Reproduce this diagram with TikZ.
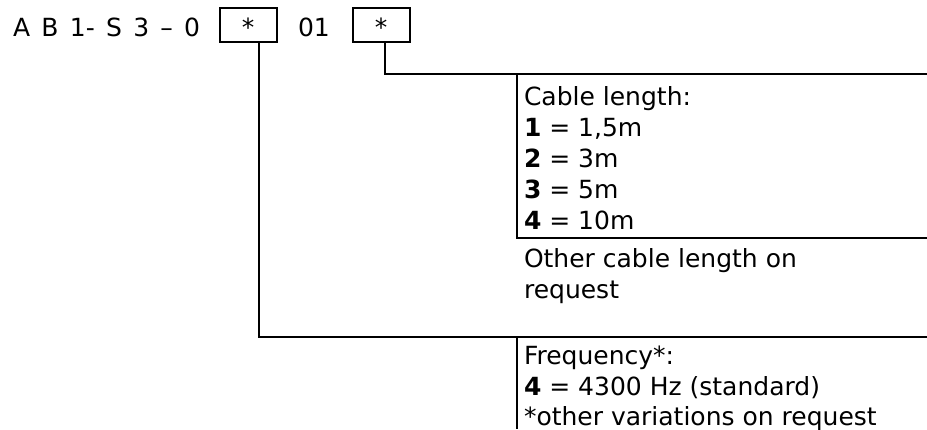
\documentclass[tikz,border=0pt]{standalone}
\usepackage{fontspec}
\setmainfont{DejaVu Sans}
\begin{document}
\begin{tikzpicture}[x=1pt,y=-1pt, line width=2pt,
  txt/.style={anchor=base west, inner sep=0pt, font=\fontsize{25}{31}\selectfont},
  starbox/.style={draw, line width=2pt, anchor=base, minimum width=57pt, inner sep=0pt,
    text height=28pt, text depth=6pt, font=\fontsize{25}{31}\selectfont},
  conn/.style={draw, line width=2pt}]
\useasboundingbox (0,0) rectangle (927,429);
% top code line
\node[txt] (code) at (12,36) {\spaceskip=11.3pt A B 1- S 3 – 0};
\node[starbox] (b1) at (248,36) {*};
\node[txt] (n01) at (297,36) {01};
\node[starbox] (b2) at (381,36) {*};
% junction coordinates
\coordinate (j1) at (259,337);
\coordinate (e1) at (927,337);
\coordinate (j2) at (385,74);
\coordinate (e2) at (927,74);
\coordinate (cA) at (517,74);
\coordinate (cB) at (517,238);
\coordinate (cC) at (927,238);
\coordinate (fA) at (517,337);
\coordinate (fB) at (517,429);
% connectors
\path[conn] (b2.south -| j2) -- (j2) -- (e2);
\path[conn] (cA) -- (cB) -- (cC);
\path[conn] (b1.south -| j1) -- (j1) -- (e1);
\path[conn] (fA) -- (fB);
% cable length texts
\node[txt] (cl0) at (523,105) {Cable length:};
\node[txt] (cl1) at (523,136) {\textbf{1} = 1,5m};
\node[txt] (cl2) at (523,167) {\textbf{2} = 3m};
\node[txt] (cl3) at (523,198) {\textbf{3} = 5m};
\node[txt] (cl4) at (523,229) {\textbf{4} = 10m};
\node[txt] (clo1) at (523,267) {Other cable length on};
\node[txt] (clo2) at (523,298) {request};
% frequency texts
\node[txt] (fr0) at (523,364) {Frequency*:};
\node[txt] (fr1) at (523,395) {\textbf{4} = 4300 Hz (standard)};
\node[txt] (fr2) at (523,425) {*other variations on request};
\end{tikzpicture}
\end{document}
